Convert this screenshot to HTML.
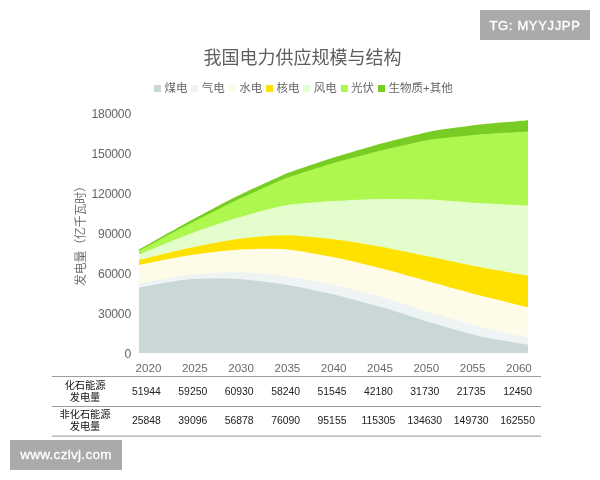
<!DOCTYPE html>
<html lang="zh"><head><meta charset="utf-8"><title>我国电力供应规模与结构</title>
<style>
html,body{margin:0;padding:0;background:#fff;}
body{width:600px;height:480px;position:relative;overflow:hidden;font-family:"Liberation Sans","Noto Sans CJK SC",sans-serif;}
.abs{position:absolute;white-space:nowrap;}
.title{left:0;width:605px;top:45px;text-align:center;font-size:18px;line-height:26px;color:#5e5e5e;}
.lg{top:80px;height:16px;font-size:11.5px;line-height:16px;color:#666;}
.lg i{display:inline-block;width:7px;height:7px;margin-right:3.6px;vertical-align:0.2px;}
.yl{left:80px;width:51px;text-align:right;font-size:12.2px;line-height:14px;color:#646464;letter-spacing:-0.2px;}
.xl{width:40px;text-align:center;font-size:11.6px;line-height:12px;color:#6a6a6a;top:362px;}
.num{width:50px;text-align:center;font-size:10.4px;line-height:12px;color:#222;}
.rl{width:80px;left:45px;text-align:center;font-size:10.2px;line-height:12.4px;color:#111;}
.hl{left:52px;width:489px;height:1px;background:#9a9a9a;}
.ytitle{left:80.8px;top:232.9px;font-size:12px;letter-spacing:-0.25px;line-height:14px;color:#707070;transform:translate(-50%,-50%) rotate(-90deg);}
.wm{background:#aaa;color:#fff;text-align:center;}
</style></head><body>
<svg class="abs" style="left:0;top:0" width="600" height="480" viewBox="0 0 600 480">
<path d="M139.00,249.60 C141.84,248.01 181.95,225.39 187.62,222.30 C193.30,219.21 230.58,199.41 236.25,196.60 C241.92,193.79 279.20,176.47 284.88,174.20 C290.55,171.92 327.83,159.41 333.50,157.60 C339.17,155.79 376.45,144.73 382.12,143.20 C387.80,141.67 425.08,132.49 430.75,131.40 C436.42,130.31 473.70,125.25 479.38,124.60 C485.05,123.95 525.16,120.46 528.00,120.20 L528.00,353 L139.00,353 Z" fill="#78cc24"/>
<path d="M139.00,250.80 C141.84,249.28 181.95,227.75 187.62,224.80 C193.30,221.85 230.58,203.01 236.25,200.30 C241.92,197.59 279.20,180.58 284.88,178.40 C290.55,176.22 327.83,164.55 333.50,162.90 C339.17,161.25 376.45,151.56 382.12,150.20 C387.80,148.83 425.08,140.42 430.75,139.50 C436.42,138.58 473.70,134.97 479.38,134.50 C485.05,134.03 525.16,131.68 528.00,131.50 L528.00,353 L139.00,353 Z" fill="#adf74f"/>
<path d="M139.00,254.50 C145.48,251.86 174.66,239.55 187.62,234.70 C200.59,229.85 223.28,221.99 236.25,218.10 C249.22,214.21 271.91,207.77 284.88,205.50 C297.84,203.23 320.53,201.97 333.50,201.10 C346.47,200.23 369.16,199.21 382.12,199.00 C395.09,198.79 417.78,198.97 430.75,199.50 C443.72,200.03 466.41,202.20 479.38,203.00 C492.34,203.80 521.52,205.17 528.00,205.50 L528.00,353 L139.00,353 Z" fill="#e4fdcd"/>
<path d="M139.00,260.00 C145.48,258.44 174.66,251.07 187.62,248.30 C200.59,245.53 223.28,240.95 236.25,239.20 C249.22,237.45 271.91,235.19 284.88,235.20 C297.84,235.21 320.53,237.73 333.50,239.30 C346.47,240.87 369.16,244.64 382.12,247.00 C395.09,249.36 417.78,254.33 430.75,257.00 C443.72,259.67 466.41,264.50 479.38,267.00 C492.34,269.50 521.52,274.58 528.00,275.75 L528.00,353 L139.00,353 Z" fill="#ffe100"/>
<path d="M139.00,265.00 C145.48,263.73 174.66,257.54 187.62,255.50 C200.59,253.46 223.28,250.53 236.25,249.70 C249.22,248.87 271.91,248.29 284.88,249.30 C297.84,250.31 320.53,254.74 333.50,257.30 C346.47,259.86 369.16,265.21 382.12,268.50 C395.09,271.79 417.78,278.43 430.75,282.00 C443.72,285.57 466.41,291.93 479.38,295.30 C492.34,298.67 521.52,305.70 528.00,307.30 L528.00,353 L139.00,353 Z" fill="#fffbe9"/>
<path d="M139.00,284.00 C145.48,282.80 174.66,276.57 187.62,275.00 C200.59,273.43 223.28,272.07 236.25,272.20 C249.22,272.33 271.91,274.29 284.88,276.00 C297.84,277.71 320.53,282.17 333.50,285.00 C346.47,287.83 369.16,293.53 382.12,297.20 C395.09,300.87 417.78,308.59 430.75,312.50 C443.72,316.41 466.41,323.13 479.38,326.50 C492.34,329.87 521.52,336.29 528.00,337.80 L528.00,353 L139.00,353 Z" fill="#edf4f3"/>
<path d="M139.00,287.50 C145.48,286.43 174.66,280.63 187.62,279.50 C200.59,278.37 223.28,278.33 236.25,279.00 C249.22,279.67 271.91,282.43 284.88,284.50 C297.84,286.57 320.53,291.46 333.50,294.50 C346.47,297.54 369.16,303.55 382.12,307.30 C395.09,311.05 417.78,318.75 430.75,322.60 C443.72,326.45 466.41,333.27 479.38,336.20 C492.34,339.13 521.52,343.48 528.00,344.60 L528.00,353 L139.00,353 Z" fill="#c9d8d6"/>
<rect x="52" y="376" width="489" height="1" fill="#9e9e9e"/><rect x="52" y="406" width="489" height="1" fill="#9e9e9e"/><rect x="52" y="435.6" width="489" height="1" fill="#949494"/>
</svg>
<div class="abs title">我国电力供应规模与结构</div>
<div class="abs lg" style="left:153.9px"><i style="background:#c9d8d6"></i>煤电</div>
<div class="abs lg" style="left:191.2px"><i style="background:#edf4f3"></i>气电</div>
<div class="abs lg" style="left:228.6px"><i style="background:#fffbe9"></i>水电</div>
<div class="abs lg" style="left:265.9px"><i style="background:#ffe100"></i>核电</div>
<div class="abs lg" style="left:303.2px"><i style="background:#e4fdcd"></i>风电</div>
<div class="abs lg" style="left:340.5px"><i style="background:#adf74f"></i>光伏</div>
<div class="abs lg" style="left:377.9px"><i style="background:#78cc24"></i>生物质+其他</div>

<div class="abs ytitle">发电量（亿千瓦时）</div>
<div class="abs yl" style="top:106.8px">180000</div>
<div class="abs yl" style="top:146.8px">150000</div>
<div class="abs yl" style="top:186.8px">120000</div>
<div class="abs yl" style="top:226.8px">90000</div>
<div class="abs yl" style="top:266.8px">60000</div>
<div class="abs yl" style="top:306.8px">30000</div>
<div class="abs yl" style="top:346.8px">0</div>
<div class="abs xl" style="left:128.5px">2020</div>
<div class="abs xl" style="left:174.8px">2025</div>
<div class="abs xl" style="left:221.1px">2030</div>
<div class="abs xl" style="left:267.4px">2035</div>
<div class="abs xl" style="left:313.7px">2040</div>
<div class="abs xl" style="left:360.0px">2045</div>
<div class="abs xl" style="left:406.3px">2050</div>
<div class="abs xl" style="left:452.6px">2055</div>
<div class="abs xl" style="left:498.9px">2060</div>
<div class="abs num" style="left:121.4px;top:385.7px">51944</div>
<div class="abs num" style="left:121.4px;top:414.7px">25848</div>
<div class="abs num" style="left:167.8px;top:385.7px">59250</div>
<div class="abs num" style="left:167.8px;top:414.7px">39096</div>
<div class="abs num" style="left:214.2px;top:385.7px">60930</div>
<div class="abs num" style="left:214.2px;top:414.7px">56878</div>
<div class="abs num" style="left:260.6px;top:385.7px">58240</div>
<div class="abs num" style="left:260.6px;top:414.7px">76090</div>
<div class="abs num" style="left:307.0px;top:385.7px">51545</div>
<div class="abs num" style="left:307.0px;top:414.7px">95155</div>
<div class="abs num" style="left:353.4px;top:385.7px">42180</div>
<div class="abs num" style="left:353.4px;top:414.7px">115305</div>
<div class="abs num" style="left:399.8px;top:385.7px">31730</div>
<div class="abs num" style="left:399.8px;top:414.7px">134630</div>
<div class="abs num" style="left:446.2px;top:385.7px">21735</div>
<div class="abs num" style="left:446.2px;top:414.7px">149730</div>
<div class="abs num" style="left:492.6px;top:385.7px">12450</div>
<div class="abs num" style="left:492.6px;top:414.7px">162550</div>
<div class="abs rl" style="top:380px">化石能源<br>发电量</div>
<div class="abs rl" style="top:409px">非化石能源<br>发电量</div>
<div class="abs wm" style="left:480px;top:10px;width:110px;height:29.5px;line-height:31px;font-size:13px;letter-spacing:0.65px;-webkit-text-stroke:0.35px #fff;">TG: MYYJJPP</div>
<div class="abs wm" style="left:10px;top:440px;width:112px;height:29.5px;line-height:30px;font-size:13.5px;letter-spacing:0.3px;-webkit-text-stroke:0.3px #fff;">www.czlvj.com</div>
</body></html>
